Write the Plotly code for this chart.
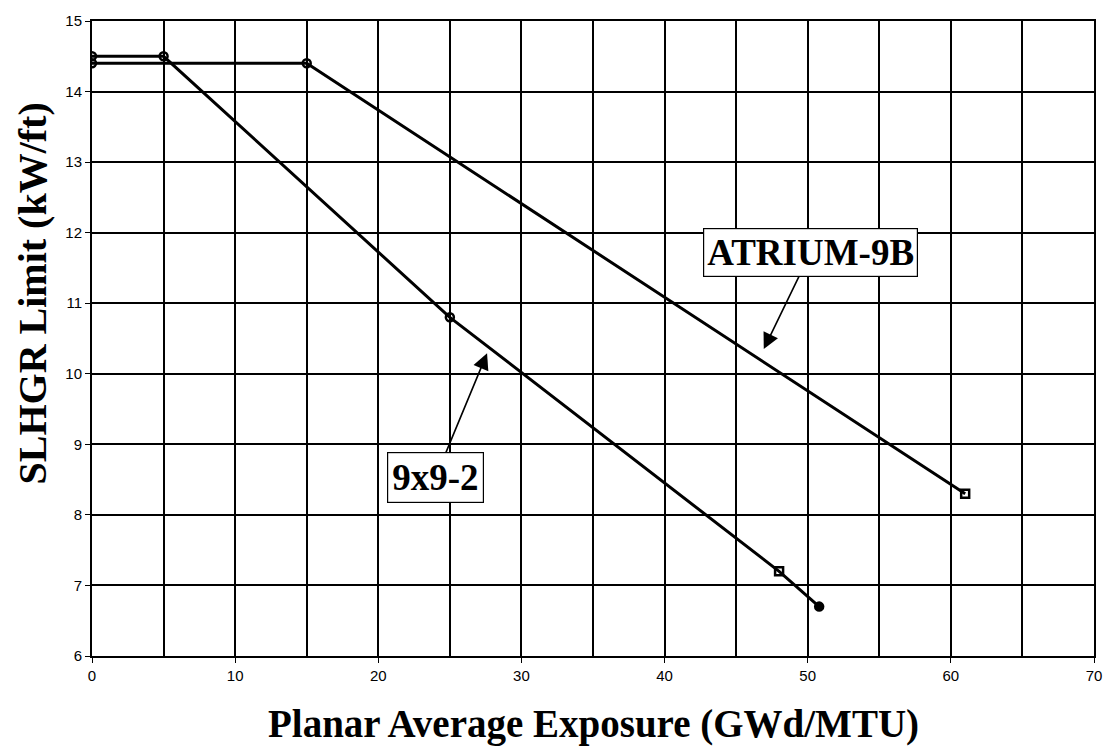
import plotly.graph_objects as go

# Data
atrium_x = [0, 15, 61]
atrium_y = [14.4, 14.4, 8.3]
atrium_sym = ["circle-open", "circle-open", "square-open"]

nine_x = [0, 5, 25, 48, 50.8]
nine_y = [14.5, 14.5, 10.8, 7.2, 6.7]
nine_sym = ["circle-open", "circle-open", "circle-open", "square-open", "circle"]

x_ticks = [0, 10, 20, 30, 40, 50, 60, 70]
y_ticks = [6, 7, 8, 9, 10, 11, 12, 13, 14, 15]

fig = go.Figure()
fig.add_trace(go.Scatter(
    x=atrium_x, y=atrium_y, mode="lines+markers", name="ATRIUM-9B",
    line=dict(color="black", width=3),
    marker=dict(symbol=atrium_sym, size=8, color="black", line=dict(color="black", width=2.5)),
))
fig.add_trace(go.Scatter(
    x=nine_x, y=nine_y, mode="lines+markers", name="9x9-2",
    line=dict(color="black", width=3),
    marker=dict(symbol=nine_sym, size=8, color="black", line=dict(color="black", width=2.5)),
))

serif = "Liberation Serif, Times New Roman, serif"
sans = "Liberation Sans, Arial, sans-serif"

fig.update_layout(
    width=1114, height=752,
    margin=dict(l=92, r=15, t=15, b=96),
    paper_bgcolor="white", plot_bgcolor="white",
    showlegend=False,
    annotations=[
        # ATRIUM-9B label with arrow
        dict(x=46.93, y=10.35, xref="x", yref="y",
             ax=50.2, ay=11.72, axref="x", ayref="y",
             text="<b>ATRIUM-9B</b>", showarrow=True,
             arrowhead=2, arrowsize=2, arrowwidth=1.6, arrowcolor="black",
             font=dict(family=serif, size=37, color="black"),
             bordercolor="black", borderwidth=1.2, borderpad=3, bgcolor="white"),
        # 9x9-2 label with arrow
        dict(x=27.6, y=10.29, xref="x", yref="y",
             ax=24.0, ay=8.53, axref="x", ayref="y",
             text="<b>9x9-2</b>", showarrow=True,
             arrowhead=2, arrowsize=2, arrowwidth=1.6, arrowcolor="black",
             font=dict(family=serif, size=37, color="black"),
             bordercolor="black", borderwidth=1.2, borderpad=4, bgcolor="white"),
        # x-axis title
        dict(x=0.5, y=0.0, xref="paper", yref="paper", yshift=-68,
             text="<b>Planar Average Exposure (GWd/MTU)</b>", showarrow=False,
             xanchor="center", yanchor="middle",
             font=dict(family=serif, size=39, color="black")),
        # y-axis title (sits above axis centre as in reference)
        dict(x=0, y=0.5, xref="paper", yref="paper", xshift=-60, yshift=45,
             text="<b>SLHGR Limit (kW/ft)</b>", showarrow=False, textangle=-90,
             xanchor="center", yanchor="middle",
             font=dict(family=serif, size=40, color="black")),
    ],
    xaxis=dict(
        range=[0, 70], tickvals=x_ticks, ticktext=[str(v) for v in x_ticks],
        showgrid=True, gridcolor="black", gridwidth=1.5,
        minor=dict(dtick=5, tick0=0, showgrid=True, gridcolor="black", gridwidth=1.5),
        showline=True, linecolor="black", linewidth=2, mirror=True,
        ticks="outside", ticklen=5, tickcolor="black",
        tickfont=dict(family=sans, size=15, color="black"),
        zeroline=False,
    ),
    yaxis=dict(
        range=[6, 15], tickvals=y_ticks,
        showgrid=True, gridcolor="black", gridwidth=1.5,
        showline=True, linecolor="black", linewidth=2, mirror=True,
        ticks="outside", ticklen=5, tickcolor="black",
        tickfont=dict(family=sans, size=15, color="black"),
        zeroline=False,
    ),
)

fig.write_html("out.html")
